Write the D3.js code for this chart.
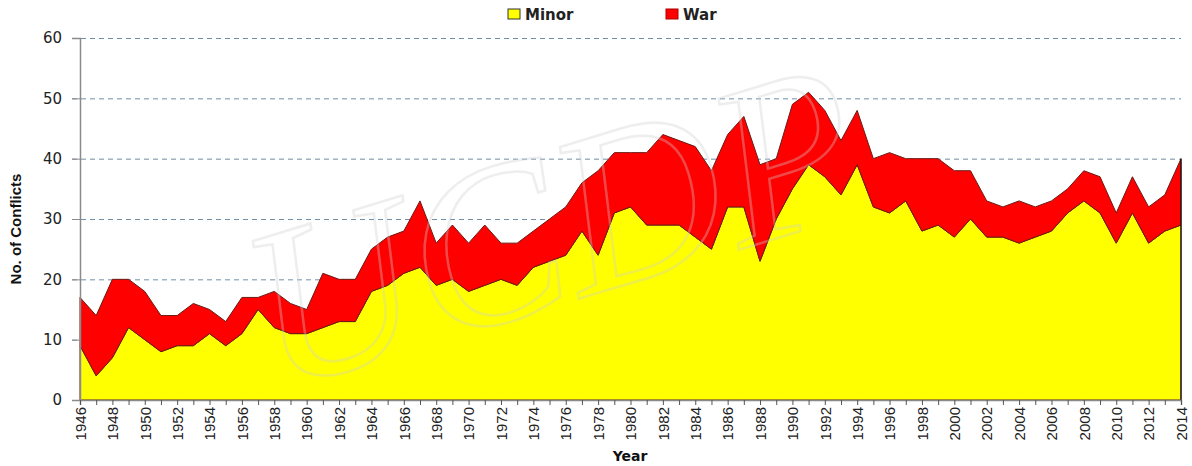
<!DOCTYPE html>
<html>
<head>
<meta charset="utf-8">
<script src="https://d3js.org/d3.v7.min.js"></script>
<style>
  body { margin: 0; background: #fff; }
  svg { display: block; }
</style>
</head>
<body>
<div id="chart"></div>
<script>
// armed conflicts by year, UCDP style
var years = [1946,1947,1948,1949,1950,1951,1952,1953,1954,1955,1956,1957,1958,1959,
  1960,1961,1962,1963,1964,1965,1966,1967,1968,1969,1970,1971,1972,1973,1974,1975,
  1976,1977,1978,1979,1980,1981,1982,1983,1984,1985,1986,1987,1988,1989,1990,1991,
  1992,1993,1994,1995,1996,1997,1998,1999,2000,2001,2002,2003,2004,2005,2006,2007,
  2008,2009,2010,2011,2012,2013,2014];

var minor = [9,4,7,12,10,8,9,9,11,9,11,15,12,11,
  11,12,13,13,18,19,21,22,19,20,18,19,20,19,22,23,
  24,28,24,31,32,29,29,29,27,25,32,32,23,30,35,39,
  37,34,39,32,31,33,28,29,27,30,27,27,26,27,28,31,
  33,31,26,31,26,28,29];

var total = [17,14,20,20,18,14,14,16,15,13,17,17,18,16,
  15,21,20,20,25,27,28,33,26,29,26,29,26,26,28,30,
  32,36,38,41,41,41,44,43,42,38,44,47,39,40,49,51,
  48,43,48,40,41,40,40,40,38,38,33,32,33,32,33,35,
  38,37,31,37,32,34,40];

var yTicks = [0, 10, 20, 30, 40, 50, 60];
var seriesNames = ["Minor", "War"];
var seriesColors = ["#ffff00", "#ff0000"];

var width = 1192, height = 466;
var margin = {top: 38, right: 11, bottom: 66, left: 80};

var rows = years.map(function(y, i) {
  return {year: y, Minor: minor[i], War: total[i] - minor[i]};
});

var svg = d3.select("#chart").append("svg")
  .attr("width", width)
  .attr("height", height);

var x = d3.scaleLinear()
  .domain([years[0], years[years.length - 1]])
  .range([margin.left, width - margin.right]);

var y = d3.scaleLinear()
  .domain([0, 60])
  .range([height - margin.bottom, margin.top]);

// gridlines
svg.append("g").selectAll("line")
  .data(yTicks.filter(function(d) { return d > 0; }))
  .enter().append("line")
  .attr("x1", margin.left - 8)
  .attr("x2", width - margin.right)
  .attr("y1", function(d) { return y(d) + 0.5; })
  .attr("y2", function(d) { return y(d) + 0.5; })
  .attr("stroke", "#6f8ea8")
  .attr("stroke-width", 1)
  .attr("stroke-dasharray", "5,4");

// stacked areas
var stack = d3.stack().keys(seriesNames);
var layers = stack(rows);

var area = d3.area()
  .x(function(d) { return x(d.data.year); })
  .y0(function(d) { return y(d[0]); })
  .y1(function(d) { return y(d[1]); });

svg.append("g").selectAll("path")
  .data(layers)
  .enter().append("path")
  .attr("d", area)
  .attr("fill", function(d, i) { return seriesColors[i]; })
  .attr("stroke", "#6b1a14")
  .attr("stroke-width", 1)
  .attr("stroke-linejoin", "round");

// watermark
svg.append("text")
  .attr("transform", "translate(575,300) rotate(-17)")
  .attr("text-anchor", "middle")
  .attr("font-family", "Liberation Serif, DejaVu Serif, serif")
  .attr("font-style", "italic")
  .attr("font-size", 230)
  .attr("fill", "none")
  .attr("stroke", "#cfcfcf")
  .attr("stroke-width", 2.5)
  .attr("opacity", 0.35)
  .text("UCDP");

// right edge line
svg.append("line")
  .attr("x1", x(years[years.length - 1]))
  .attr("x2", x(years[years.length - 1]))
  .attr("y1", y(total[total.length - 1]))
  .attr("y2", y(0))
  .attr("stroke", "#111")
  .attr("stroke-width", 1.2);

// y axis
var yAxis = svg.append("g")
  .attr("transform", "translate(" + margin.left + ",0)")
  .call(d3.axisLeft(y).tickValues(yTicks).tickSize(8).tickPadding(10));
yAxis.select(".domain").attr("stroke", "#8a8a8a").attr("stroke-width", 1.5);
yAxis.selectAll(".tick line").attr("stroke", "#8a8a8a");
yAxis.selectAll("text")
  .attr("font-family", "DejaVu Sans, Verdana, sans-serif")
  .attr("font-size", 15)
  .attr("fill", "#222");

// x axis
var xAxis = svg.append("g")
  .attr("transform", "translate(0," + y(0) + ")")
  .call(d3.axisBottom(x).tickValues(years).tickSize(5)
    .tickFormat(function(d) { return (d - 1946) % 2 === 0 ? d : ""; }));
xAxis.select(".domain").attr("stroke", "#8a8a8a").attr("stroke-width", 1.5);
xAxis.selectAll(".tick line").attr("stroke", "#555");
xAxis.selectAll("text")
  .attr("font-family", "Liberation Sans Narrow, Arial Narrow, sans-serif")
  .attr("font-size", 15)
  .attr("fill", "#222")
  .attr("text-anchor", "end")
  .attr("transform", "rotate(-90)")
  .attr("x", -7)
  .attr("y", 0)
  .attr("dy", "0.35em");

// axis titles
svg.append("text")
  .attr("transform", "translate(21," + ((margin.top + y(0)) / 2 + 10) + ") rotate(-90)")
  .attr("text-anchor", "middle")
  .attr("font-family", "Liberation Sans Narrow, Arial Narrow, sans-serif")
  .attr("font-weight", "bold")
  .attr("font-size", 15)
  .attr("fill", "#111")
  .text("No. of Conflicts");

svg.append("text")
  .attr("x", 630)
  .attr("y", 461)
  .attr("text-anchor", "middle")
  .attr("font-family", "DejaVu Sans, Verdana, sans-serif")
  .attr("font-weight", "bold")
  .attr("font-size", 14)
  .attr("fill", "#111")
  .text("Year");

// legend
var legendX = [508, 666];
var legend = svg.append("g").selectAll("g")
  .data(seriesNames)
  .enter().append("g")
  .attr("transform", function(d, i) { return "translate(" + legendX[i] + ",9)"; });

legend.append("rect")
  .attr("width", 12)
  .attr("height", 10)
  .attr("fill", function(d, i) { return seriesColors[i]; })
  .attr("stroke", function(d, i) { return i === 0 ? "#333" : "#b00000"; })
  .attr("stroke-width", 1);

legend.append("text")
  .attr("x", 17)
  .attr("y", 10.5)
  .attr("font-family", "DejaVu Sans, Verdana, sans-serif")
  .attr("font-weight", "bold")
  .attr("font-size", 15)
  .attr("fill", "#222")
  .text(function(d) { return d; });
</script>
</body>
</html>
